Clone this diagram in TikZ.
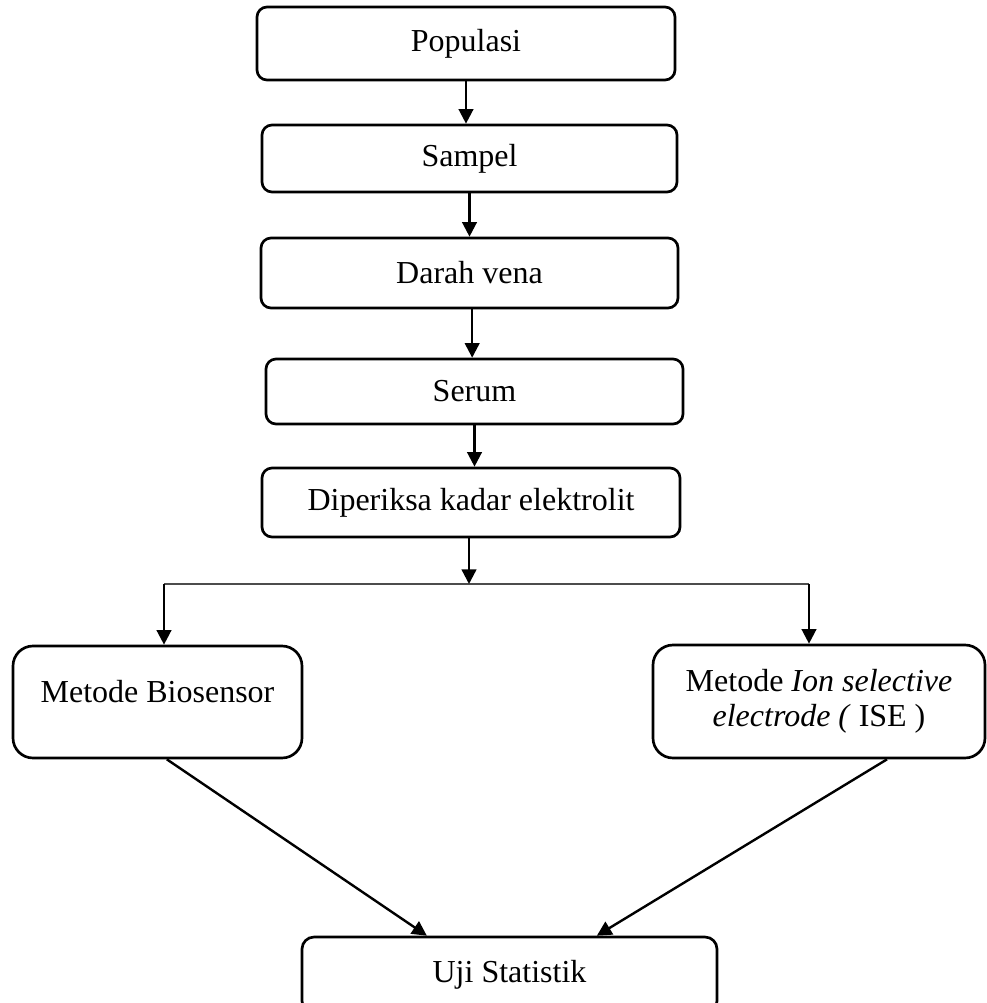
\documentclass[tikz,border=0pt]{standalone}
\usepackage{fontspec}
\setmainfont{Liberation Serif}
\usetikzlibrary{arrows.meta}
\begin{document}
\begin{tikzpicture}[x=0.75pt,y=-0.75pt,
  box/.style={draw, line width=2pt, rounded corners=7.5pt, inner sep=0pt,
    font=\fontsize{24pt}{26.25pt}\selectfont, align=center},
  bigbox/.style={box, rounded corners=15pt},
  txt/.style={inner sep=0pt, font=\fontsize{24pt}{26.25pt}\selectfont, align=center},
  arr/.style={line width=1.8pt, -{Triangle[length=11pt,width=11pt]}},
  split/.style={line width=1.3pt, draw=black!70}]
\useasboundingbox (0,0) rectangle (987,1003);
\node[box, minimum width=313.5pt, minimum height=54.75pt] (pop) at (466,43.5) {Populasi};
\node[box, minimum width=311.25pt, minimum height=50.25pt] (sam) at (469.5,158.5) {Sampel};
\node[box, minimum width=312.75pt, minimum height=52.5pt] (dar) at (469.5,273) {Darah vena};
\node[box, minimum width=312.75pt, minimum height=48.75pt] (ser) at (474.5,391.5) {Serum};
\node[box, minimum width=313.5pt, minimum height=51.75pt] (dip) at (471,502.5) {Diperiksa kadar elektrolit};
\node[bigbox, minimum width=216.75pt, minimum height=84pt] (bio) at (157.5,702) {};
\node[txt] (biot) at (157.5,692) {Metode Biosensor};
\node[bigbox, minimum width=249pt, minimum height=84.75pt] (ise) at (819,701.5)
  {Metode \textit{Ion selective}\\\textit{electrode (} ISE )};
\node[box, rounded corners=9pt, minimum width=311.25pt, minimum height=57pt] (uji) at (509.5,975) {Uji Statistik};
\coordinate (jL) at (164,584);
\coordinate (jR) at (809,584);
\draw[arr] (pop.south) -- (pop.south |- sam.north);
\draw[arr] (sam.south) -- (sam.south |- dar.north);
\draw[arr] ([xshift=2pt]dar.south) -- ([xshift=2pt]dar.south |- ser.north);
\draw[arr] (ser.south) -- (ser.south |- dip.north);
\draw[split] (jL) -- (jR);
\draw[arr] ([xshift=-1.5pt]dip.south) -- ([xshift=-1.5pt]dip.south |- jL);
\draw[arr] (jL) -- (jL |- bio.north);
\draw[arr] (jR) -- (jR |- ise.north);
\draw[arr] ([xshift=7pt]bio.south) -- ([xshift=-62pt]uji.north);
\draw[arr] ([xshift=51pt]ise.south) -- ([xshift=65.5pt]uji.north);
\end{tikzpicture}
\end{document}
